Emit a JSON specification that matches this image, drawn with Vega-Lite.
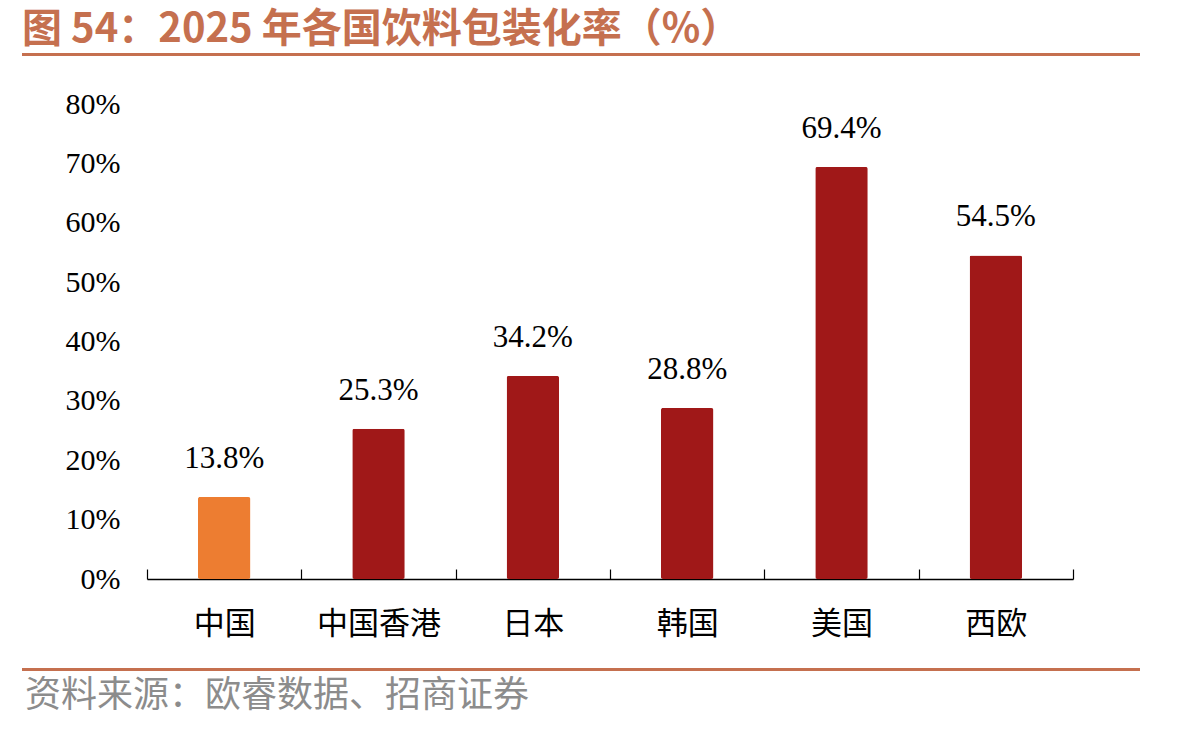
{
  "$schema": "https://vega.github.io/schema/vega-lite/v6.json",
  "autosize": {"type": "pad"},
  "padding": {"left": 22, "top": 10, "right": 10, "bottom": 10},
  "background": "white",
  "config": {
    "view": {"stroke": null},
    "font": "Noto Sans CJK SC"
  },
  "bounds": "flush",
  "spacing": 20,
  "vconcat": [
    {
      "width": 1118,
      "height": 3,
      "view": {"fill": "#C5704F", "stroke": null},
      "title": {
        "text": "图 54：2025 年各国饮料包装化率（%）",
        "orient": "top",
        "anchor": "start",
        "font": "Noto Sans CJK SC",
        "fontSize": 40,
        "fontWeight": "bold",
        "color": "#C5704F",
        "offset": 3
      },
      "data": {"values": []},
      "mark": "text",
      "encoding": {}
    },
    {
      "width": 1118,
      "height": 8,
      "data": {"values": []},
      "mark": "text",
      "encoding": {}
    },
    {
      "width": 1118,
      "height": 475,
      "data": {
        "values": [
          {"country": "中国", "value": 0.138},
          {"country": "中国香港", "value": 0.253},
          {"country": "日本", "value": 0.342},
          {"country": "韩国", "value": 0.288},
          {"country": "美国", "value": 0.694},
          {"country": "西欧", "value": 0.545}
        ]
      },
      "encoding": {
        "x": {
          "field": "country",
          "type": "nominal",
          "sort": null,
          "scale": {"range": [125, 1051], "paddingInner": 0, "paddingOuter": 0},
          "axis": {
            "title": null,
            "labelAngle": 0,
            "labelFont": "Noto Sans CJK SC",
            "labelFontSize": 31,
            "labelColor": "#000000",
            "labelPadding": 40,
            "domain": true,
            "domainColor": "#000000",
            "domainWidth": 1.5,
            "ticks": true,
            "tickBand": "extent",
            "tickSize": -10,
            "tickColor": "#000000",
            "tickWidth": 1.2
          }
        },
        "y": {
          "field": "value",
          "type": "quantitative",
          "scale": {"domain": [0, 0.8], "nice": false},
          "axis": {
            "title": null,
            "values": [0, 0.1, 0.2, 0.3, 0.4, 0.5, 0.6, 0.7, 0.8],
            "format": ".0%",
            "grid": false,
            "domain": false,
            "ticks": false,
            "offset": -125,
            "labelPadding": 27,
            "labelFont": "Liberation Serif",
            "labelFontSize": 30,
            "labelColor": "#000000"
          }
        }
      },
      "layer": [
        {
          "mark": {"type": "bar", "width": {"band": 0.34}, "cornerRadius": 2},
          "encoding": {
            "color": {
              "condition": {"test": "datum.country === '中国'", "value": "#ED7D31"},
              "value": "#A01818"
            }
          }
        },
        {
          "mark": {
            "type": "text",
            "baseline": "bottom",
            "dy": -22,
            "font": "Liberation Serif",
            "fontSize": 31,
            "color": "#000000"
          },
          "encoding": {
            "text": {"field": "value", "type": "quantitative", "format": ".1%"}
          }
        }
      ]
    },
    {
      "width": 1118,
      "height": 49,
      "data": {"values": []},
      "mark": "text",
      "encoding": {}
    },
    {
      "width": 1118,
      "height": 3,
      "view": {"fill": "#C5704F", "stroke": null},
      "title": {
        "text": "资料来源：欧睿数据、招商证券",
        "orient": "bottom",
        "anchor": "start",
        "font": "Noto Sans CJK SC",
        "fontSize": 36,
        "fontWeight": "normal",
        "color": "#8C8C8C",
        "offset": 8,
        "dx": 3
      },
      "data": {"values": []},
      "mark": "text",
      "encoding": {}
    }
  ]
}
